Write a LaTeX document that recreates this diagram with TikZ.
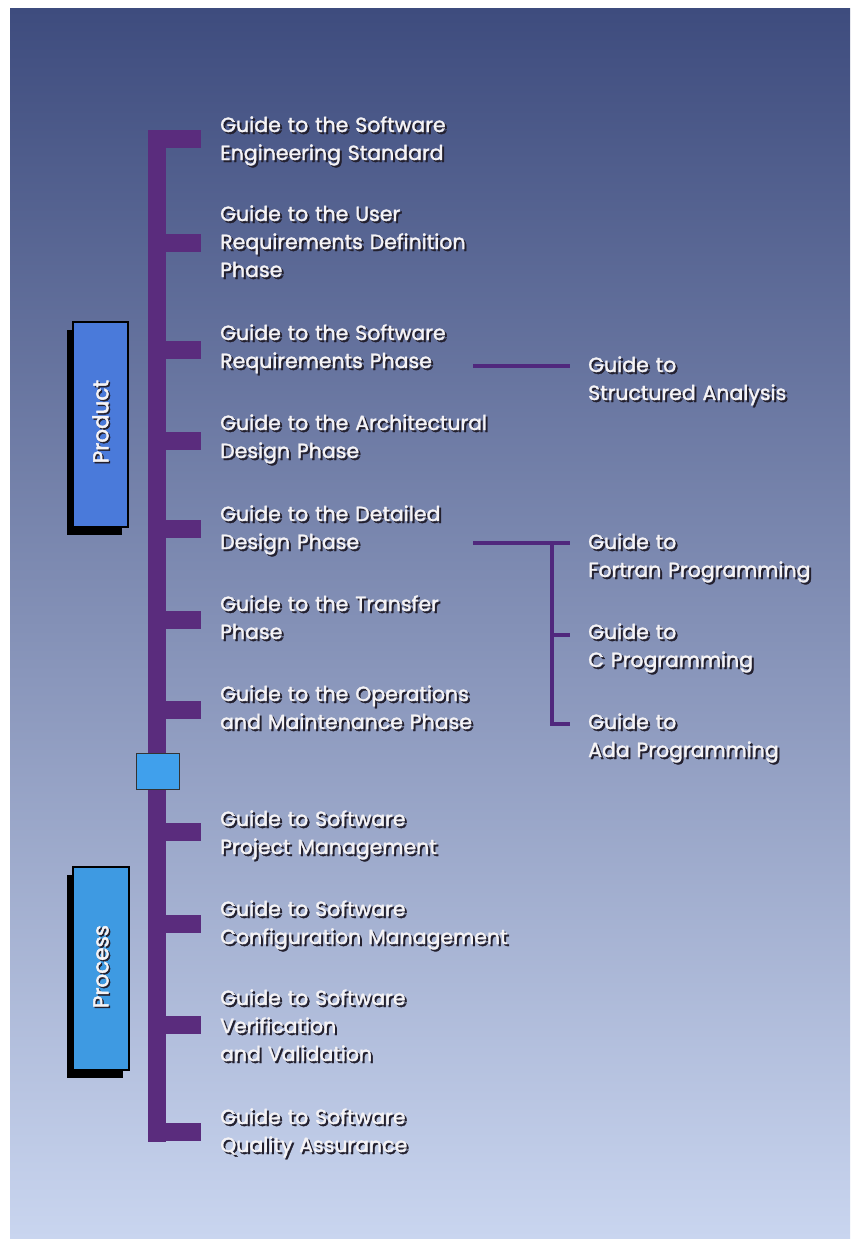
\documentclass[tikz,border=0pt]{standalone}
\usepackage{fontspec}
\newfontfamily\guidefont{Poppins}[FakeBold=1.6, WordSpace=1.25]
\newfontfamily\groupfont{Poppins}[FakeBold=2.2]
\usetikzlibrary{calc}

\definecolor{bgtop}{RGB}{62,76,126}
\definecolor{bgmid}{RGB}{118,134,192}
\definecolor{bgbot}{RGB}{201,213,239}
\definecolor{spine}{RGB}{90,44,125}
\definecolor{thinlink}{RGB}{80,40,125}
\definecolor{prodblue}{RGB}{74,122,218}
\definecolor{procblue}{RGB}{62,154,226}
\definecolor{hubblue}{RGB}{64,160,236}
\definecolor{txt}{RGB}{245,243,245}
\definecolor{txtshadow}{RGB}{35,32,46}

% multi-line label whose baseline is that of its first line
\newcommand\lines[1]{\begin{tabular}[t]{@{}l@{}}#1\end{tabular}}

\tikzset{
  gtxt/.style={anchor=base west, inner sep=0pt, text=txt,
    font=\guidefont\fontsize{20.5}{28}\selectfont},
  gshadow/.style={gtxt, text=txtshadow},
  bus/.style={draw=spine, line width=18pt, line cap=butt},
  link/.style={draw=thinlink, line width=4pt, line cap=butt},
  groupbox/.style={draw=black, line width=1.5pt, inner sep=0pt},
  grouplabel/.style={rotate=90, inner sep=0pt, text=txt,
    font=\groupfont\fontsize{21.5}{28}\selectfont},
}

% a guide title, drawn over its own drop shadow
\newcommand\guide[4]{%
  \node[gshadow] at (#2+2,#3+2) {\lines{#4}};
  \node[gtxt] (#1) at (#2,#3) {\lines{#4}};
}

\begin{document}
\begin{tikzpicture}[x=1pt,y=-1pt]
\useasboundingbox (0,0) rectangle (857,1247);
\fill[white] (0,0) rectangle (857,1247);
\shade[top color=bgtop, middle color=bgmid, bottom color=bgbot]
  (10,9) rectangle (850,1238);

% --- group boxes with offset shadows ---
\fill[black] (67,330) rectangle (122,535);
\node[groupbox, fill=prodblue, minimum width=55pt, minimum height=205pt]
  (product) at (100.5,424.5) {};
\node[grouplabel] at (102,423) {\color{txtshadow}Product};
\node[grouplabel] (productlabel) at (100.5,421.5) {Product};

\fill[black] (67,875) rectangle (123,1078);
\node[groupbox, fill=procblue, minimum width=56pt, minimum height=203pt]
  (process) at (101,968.5) {};
\node[grouplabel] at (102.5,968) {\color{txtshadow}Process};
\node[grouplabel] (processlabel) at (101,966.5) {Process};

% --- main bus ---
\coordinate (bustop) at (157,130);
\coordinate (busbot) at (157,1142);
\draw[bus] (bustop) -- (busbot);

% --- guide titles ---
\guide{ses}{220}{132}{Guide to the Software\\Engineering Standard}
\guide{urd}{220}{221}{Guide to the User\\Requirements Definition\\Phase}
\guide{srp}{220}{340}{Guide to the Software\\Requirements Phase}
\guide{adp}{220}{430}{Guide to the Architectural\\Design Phase}
\guide{ddp}{220}{521}{Guide to the Detailed\\Design Phase}
\guide{trp}{220}{611}{Guide to the Transfer\\Phase}
\guide{omp}{220}{701}{Guide to the Operations\\and Maintenance Phase}
\guide{spm}{220}{826}{Guide to Software\\Project Management}
\guide{scm}{220}{916}{Guide to Software\\Configuration Management}
\guide{svv}{220}{1005}{Guide to Software\\Verification\\and Validation}
\guide{sqa}{220}{1124}{Guide to Software\\Quality Assurance}

\guide{sa}{588}{372}{Guide to\\Structured Analysis}
\guide{fortran}{588}{549}{Guide to\\Fortran Programming}
\guide{cprog}{588}{639}{Guide to\\C Programming}
\guide{ada}{588}{729}{Guide to\\Ada Programming}

% --- stubs from the bus to each title ---
\foreach \g/\y in {ses/139, urd/243, srp/350, adp/441, ddp/529, trp/620,
                   omp/710, spm/832, scm/924, svv/1025, sqa/1132}{
  \draw[bus] (148,\y) -- ($(\g.west|-0,\y)+(-19,0)$);
}

% --- hub between the two groups ---
\node[draw=black!80, line width=1.2pt, fill=hubblue, minimum width=43pt,
  minimum height=36pt, inner sep=0pt] (hub) at (158,771.5) {};

% --- links to the language and method guides ---
\coordinate (srpout) at (473,366);
\coordinate (ddpout) at (473,543);
\coordinate (fork) at (552,543);
\coordinate (forkC) at (552,635);
\coordinate (forkAda) at (552,724);
\draw[link] (srpout) -- ($(sa.west|-srpout)+(-18,0)$);
\draw[link] (ddpout) -- ($(fortran.west|-ddpout)+(-18,0)$);
\draw[link] (fork) -- ($(forkAda)+(0,2)$);
\draw[link] (forkC) -- ($(cprog.west|-forkC)+(-18,0)$);
\draw[link] (forkAda) -- ($(ada.west|-forkAda)+(-18,0)$);
\end{tikzpicture}
\end{document}
